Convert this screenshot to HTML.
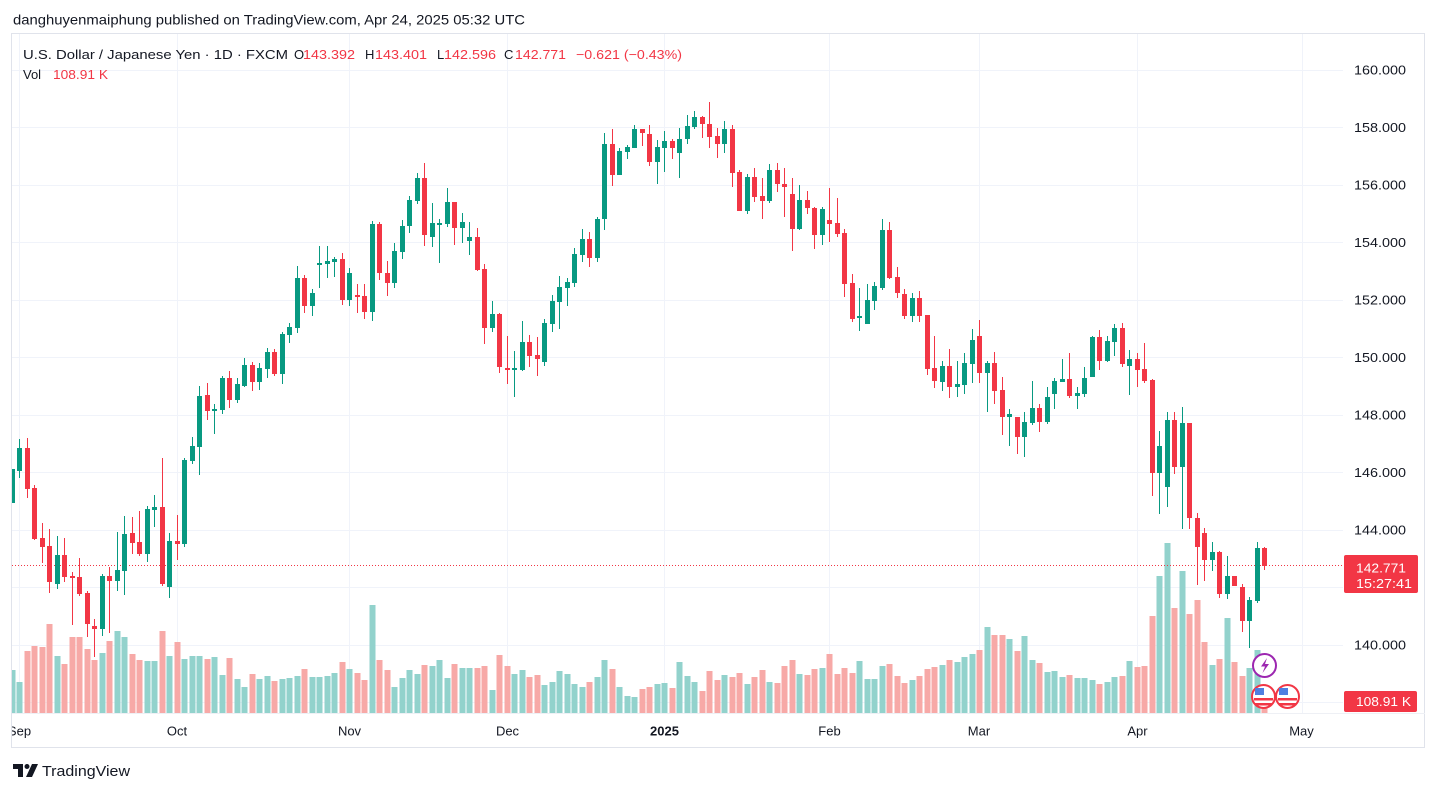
<!DOCTYPE html>
<html><head><meta charset="utf-8"><style>
html,body{margin:0;padding:0;background:#fff;}
svg{display:block;}
text{font-family:"Liberation Sans",Arial,sans-serif;}
</style></head><body>
<svg width="1438" height="792" viewBox="0 0 1438 792" xmlns="http://www.w3.org/2000/svg">
<defs><clipPath id="cp"><rect x="12" y="34" width="1331" height="713"/></clipPath></defs>
<rect width="1438" height="792" fill="#fff"/>
<text x="13" y="24.5" font-size="14" fill="#131722" textLength="512" lengthAdjust="spacingAndGlyphs">danghuyenmaiphung published on TradingView.com, Apr 24, 2025 05:32 UTC</text>
<rect x="11.5" y="33.5" width="1413" height="714" fill="none" stroke="#e0e3eb"/>
<g stroke="#f0f3fa" stroke-width="1">
<path d="M12 70.5H1343M12 127.5H1343M12 185.5H1343M12 242.5H1343M12 300.5H1343M12 357.5H1343M12 415.5H1343M12 472.5H1343M12 530.5H1343M12 587.5H1343M12 645.5H1343M12 702.5H1343"/>
<path d="M19.5 34V713M177.5 34V713M349.5 34V713M507.5 34V713M664.5 34V713M829.5 34V713M979.5 34V713M1137.5 34V713M1302.5 34V713"/>
</g>
<path d="M12 713.5H1425" stroke="#eef0f5"/>
<g clip-path="url(#cp)">
<path fill="#92d2cc" d="M9.5 670h6V713h-6ZM16.5 682h6V713h-6ZM54.5 656h6V713h-6ZM99.5 653h6V713h-6ZM114.5 631h6V713h-6ZM121.5 637h6V713h-6ZM144.5 661h6V713h-6ZM151.5 661h6V713h-6ZM166.5 656h6V713h-6ZM181.5 659h6V713h-6ZM189.5 656h6V713h-6ZM196.5 656h6V713h-6ZM211.5 657h6V713h-6ZM219.5 675h6V713h-6ZM234.5 679h6V713h-6ZM241.5 687h6V713h-6ZM256.5 679h6V713h-6ZM264.5 676h6V713h-6ZM279.5 679h6V713h-6ZM286.5 678h6V713h-6ZM294.5 676h6V713h-6ZM309.5 677h6V713h-6ZM316.5 677h6V713h-6ZM324.5 676h6V713h-6ZM331.5 673h6V713h-6ZM346.5 669h6V713h-6ZM369.5 605h6V713h-6ZM391.5 687h6V713h-6ZM399.5 678h6V713h-6ZM406.5 670h6V713h-6ZM414.5 674h6V713h-6ZM429.5 666h6V713h-6ZM436.5 660h6V713h-6ZM444.5 678h6V713h-6ZM459.5 668h6V713h-6ZM466.5 668h6V713h-6ZM489.5 690h6V713h-6ZM511.5 674h6V713h-6ZM519.5 670h6V713h-6ZM541.5 685h6V713h-6ZM549.5 682h6V713h-6ZM556.5 671h6V713h-6ZM564.5 674h6V713h-6ZM571.5 684h6V713h-6ZM579.5 687h6V713h-6ZM594.5 677h6V713h-6ZM601.5 660h6V713h-6ZM616.5 687h6V713h-6ZM624.5 696h6V713h-6ZM631.5 697h6V713h-6ZM654.5 684h6V713h-6ZM661.5 683h6V713h-6ZM676.5 662h6V713h-6ZM684.5 676h6V713h-6ZM691.5 682h6V713h-6ZM721.5 675h6V713h-6ZM744.5 684h6V713h-6ZM766.5 682h6V713h-6ZM796.5 674h6V713h-6ZM819.5 668h6V713h-6ZM856.5 661h6V713h-6ZM864.5 679h6V713h-6ZM871.5 679h6V713h-6ZM879.5 666h6V713h-6ZM909.5 680h6V713h-6ZM939.5 665h6V713h-6ZM954.5 662h6V713h-6ZM961.5 657h6V713h-6ZM969.5 654h6V713h-6ZM984.5 627h6V713h-6ZM1006.5 639h6V713h-6ZM1021.5 636h6V713h-6ZM1029.5 660h6V713h-6ZM1044.5 672h6V713h-6ZM1051.5 671h6V713h-6ZM1059.5 677h6V713h-6ZM1074.5 678h6V713h-6ZM1081.5 678h6V713h-6ZM1089.5 680h6V713h-6ZM1104.5 682h6V713h-6ZM1111.5 677h6V713h-6ZM1126.5 661h6V713h-6ZM1156.5 576h6V713h-6ZM1164.5 543h6V713h-6ZM1179.5 571h6V713h-6ZM1209.5 665h6V713h-6ZM1224.5 618h6V713h-6ZM1246.5 668h6V713h-6ZM1254.5 650h6V713h-6Z"/>
<path fill="#f7a9a7" d="M24.5 651h6V713h-6ZM31.5 646h6V713h-6ZM39.5 647h6V713h-6ZM46.5 624h6V713h-6ZM61.5 664h6V713h-6ZM69.5 637h6V713h-6ZM76.5 637h6V713h-6ZM84.5 649h6V713h-6ZM91.5 660h6V713h-6ZM106.5 641h6V713h-6ZM129.5 654h6V713h-6ZM136.5 660h6V713h-6ZM159.5 631h6V713h-6ZM174.5 642h6V713h-6ZM204.5 659h6V713h-6ZM226.5 658h6V713h-6ZM249.5 674h6V713h-6ZM271.5 681h6V713h-6ZM301.5 669h6V713h-6ZM339.5 662h6V713h-6ZM354.5 673h6V713h-6ZM361.5 680h6V713h-6ZM376.5 660h6V713h-6ZM384.5 670h6V713h-6ZM421.5 665h6V713h-6ZM451.5 664h6V713h-6ZM474.5 668h6V713h-6ZM481.5 666h6V713h-6ZM496.5 655h6V713h-6ZM504.5 666h6V713h-6ZM526.5 677h6V713h-6ZM534.5 675h6V713h-6ZM586.5 682h6V713h-6ZM609.5 669h6V713h-6ZM639.5 689h6V713h-6ZM646.5 687h6V713h-6ZM669.5 688h6V713h-6ZM699.5 691h6V713h-6ZM706.5 671h6V713h-6ZM714.5 680h6V713h-6ZM729.5 677h6V713h-6ZM736.5 673h6V713h-6ZM751.5 677h6V713h-6ZM759.5 670h6V713h-6ZM774.5 683h6V713h-6ZM781.5 666h6V713h-6ZM789.5 660h6V713h-6ZM804.5 675h6V713h-6ZM811.5 669h6V713h-6ZM826.5 654h6V713h-6ZM834.5 674h6V713h-6ZM841.5 668h6V713h-6ZM849.5 673h6V713h-6ZM886.5 664h6V713h-6ZM894.5 676h6V713h-6ZM901.5 683h6V713h-6ZM916.5 676h6V713h-6ZM924.5 669h6V713h-6ZM931.5 667h6V713h-6ZM946.5 660h6V713h-6ZM976.5 650h6V713h-6ZM991.5 635h6V713h-6ZM999.5 635h6V713h-6ZM1014.5 651h6V713h-6ZM1036.5 663h6V713h-6ZM1066.5 675h6V713h-6ZM1096.5 684h6V713h-6ZM1119.5 676h6V713h-6ZM1134.5 667h6V713h-6ZM1141.5 666h6V713h-6ZM1149.5 616h6V713h-6ZM1171.5 608h6V713h-6ZM1186.5 614h6V713h-6ZM1194.5 600h6V713h-6ZM1201.5 642h6V713h-6ZM1216.5 659h6V713h-6ZM1231.5 662h6V713h-6ZM1239.5 676h6V713h-6ZM1261.5 690h6V713h-6Z"/>
<path stroke="#f23645" stroke-dasharray="1 2" d="M12 565.5H1343"/>
<path stroke="#089981" stroke-width="1" fill="none" d="M12.5 469V503M19.5 439V478M57.5 536V589M102.5 574V636M117.5 532V591M124.5 516V595M147.5 506V562M154.5 495V527M169.5 533V598M184.5 458V547M192.5 437V464M199.5 386V475M214.5 404V434M222.5 376V414M237.5 378V403M244.5 358V387M259.5 363V390M267.5 348V378M282.5 332V384M289.5 323V343M297.5 266V333M312.5 289V316M319.5 246V288M327.5 246V278M334.5 257V277M349.5 268V306M372.5 221V321M394.5 243V288M402.5 220V259M409.5 196V233M417.5 173V204M432.5 203V247M439.5 219V263M447.5 188V227M462.5 213V243M469.5 222V255M492.5 301V332M514.5 351V397M522.5 321V371M544.5 319V366M552.5 295V332M559.5 276V329M567.5 278V306M574.5 248V287M582.5 229V262M597.5 217V262M604.5 133V230M619.5 148V175M627.5 145V159M634.5 125V148M657.5 140V184M664.5 131V172M679.5 128V178M687.5 115V144M694.5 111V129M724.5 121V153M747.5 174V214M769.5 164V203M799.5 185V230M822.5 207V245M859.5 288V331M867.5 284V324M874.5 282V310M882.5 219V290M912.5 293V322M942.5 361V391M957.5 361V397M964.5 353V394M972.5 329V383M987.5 361V412M1009.5 409V446M1024.5 412V457M1032.5 381V425M1047.5 387V424M1054.5 378V409M1062.5 359V382M1077.5 387V409M1084.5 367V397M1092.5 336V377M1107.5 336V362M1114.5 324V356M1129.5 350V395M1159.5 431V514M1167.5 412V507M1182.5 407V529M1212.5 542V571M1227.5 556V599M1249.5 597V648M1257.5 542V603"/>
<path fill="#089981" d="M10 469h5V503h-5ZM17 448h5V471h-5ZM55 555h5V584h-5ZM100 576h5V629h-5ZM115 570h5V581h-5ZM122 534h5V571h-5ZM145 509h5V554h-5ZM152 507h5V510h-5ZM167 541h5V587h-5ZM182 460h5V544h-5ZM190 446h5V461h-5ZM197 396h5V447h-5ZM212 409h5V411h-5ZM220 378h5V410h-5ZM235 384h5V400h-5ZM242 365h5V386h-5ZM257 368h5V382h-5ZM265 352h5V369h-5ZM280 334h5V374h-5ZM287 327h5V335h-5ZM295 278h5V328h-5ZM310 293h5V306h-5ZM317 263h5V265h-5ZM325 261h5V264h-5ZM332 259h5V262h-5ZM347 273h5V300h-5ZM370 224h5V312h-5ZM392 251h5V283h-5ZM400 226h5V252h-5ZM407 200h5V226h-5ZM415 178h5V201h-5ZM430 223h5V237h-5ZM437 223h5V225h-5ZM445 202h5V224h-5ZM460 222h5V228h-5ZM467 237h5V241h-5ZM490 314h5V328h-5ZM512 368h5V370h-5ZM520 342h5V370h-5ZM542 323h5V362h-5ZM550 301h5V324h-5ZM557 287h5V302h-5ZM565 282h5V288h-5ZM572 254h5V283h-5ZM580 239h5V255h-5ZM595 219h5V258h-5ZM602 144h5V219h-5ZM617 151h5V175h-5ZM625 147h5V152h-5ZM632 129h5V148h-5ZM655 147h5V162h-5ZM662 141h5V148h-5ZM677 139h5V153h-5ZM685 126h5V139h-5ZM692 117h5V127h-5ZM722 129h5V144h-5ZM745 177h5V211h-5ZM767 170h5V201h-5ZM797 200h5V229h-5ZM820 209h5V235h-5ZM857 316h5V318h-5ZM865 300h5V324h-5ZM872 286h5V301h-5ZM880 230h5V288h-5ZM910 298h5V316h-5ZM940 366h5V382h-5ZM955 384h5V387h-5ZM962 363h5V385h-5ZM970 340h5V364h-5ZM985 363h5V373h-5ZM1007 414h5V417h-5ZM1022 422h5V437h-5ZM1030 408h5V423h-5ZM1045 397h5V422h-5ZM1052 381h5V394h-5ZM1060 379h5V382h-5ZM1075 393h5V396h-5ZM1082 378h5V394h-5ZM1090 337h5V377h-5ZM1105 341h5V361h-5ZM1112 328h5V342h-5ZM1127 359h5V366h-5ZM1157 446h5V473h-5ZM1165 420h5V487h-5ZM1180 423h5V467h-5ZM1210 552h5V560h-5ZM1225 576h5V594h-5ZM1247 600h5V621h-5ZM1255 548h5V601h-5Z"/>
<path stroke="#f23645" stroke-width="1" fill="none" d="M27.5 438V498M34.5 485V540M42.5 523V563M49.5 529V593M64.5 538V582M72.5 572V625M79.5 558V596M87.5 591V637M94.5 619V657M109.5 567V633M132.5 517V554M139.5 511V556M162.5 458V586M177.5 515V560M207.5 383V420M229.5 371V408M252.5 362V391M274.5 349V376M304.5 275V313M342.5 253V305M357.5 284V313M364.5 284V319M379.5 222V280M387.5 261V296M424.5 163V246M454.5 202V245M477.5 228V271M484.5 264V344M499.5 313V373M507.5 336V384M529.5 335V367M537.5 337V376M589.5 232V267M612.5 129V186M642.5 129V146M649.5 125V166M672.5 139V159M702.5 116V138M709.5 102V148M717.5 128V158M732.5 125V187M739.5 170V211M754.5 168V202M762.5 178V219M777.5 163V192M784.5 168V217M792.5 178V251M807.5 191V214M814.5 207V249M829.5 188V242M837.5 198V237M844.5 229V297M852.5 274V322M889.5 222V279M897.5 267V298M904.5 289V319M919.5 291V322M927.5 315V375M934.5 336V388M949.5 349V398M979.5 320V383M994.5 352V404M1002.5 377V435M1017.5 417V454M1039.5 404V432M1069.5 353V398M1099.5 330V370M1122.5 323V367M1137.5 353V387M1144.5 343V383M1152.5 379V496M1174.5 412V474M1189.5 423V529M1197.5 513V585M1204.5 528V581M1219.5 551V598M1234.5 576V586M1242.5 584V632M1264.5 547V570"/>
<path fill="#f23645" d="M25 448h5V489h-5ZM32 488h5V539h-5ZM40 538h5V547h-5ZM47 546h5V582h-5ZM62 555h5V577h-5ZM70 576h5V578h-5ZM77 577h5V594h-5ZM85 593h5V624h-5ZM92 626h5V629h-5ZM107 576h5V581h-5ZM130 533h5V543h-5ZM137 542h5V554h-5ZM160 507h5V584h-5ZM175 541h5V544h-5ZM205 395h5V411h-5ZM227 378h5V400h-5ZM250 365h5V382h-5ZM272 352h5V374h-5ZM302 278h5V306h-5ZM340 259h5V300h-5ZM355 295h5V297h-5ZM362 296h5V312h-5ZM377 224h5V273h-5ZM385 273h5V283h-5ZM422 178h5V235h-5ZM452 202h5V228h-5ZM475 237h5V270h-5ZM482 269h5V328h-5ZM497 314h5V367h-5ZM505 368h5V370h-5ZM527 342h5V356h-5ZM535 355h5V359h-5ZM587 239h5V258h-5ZM610 144h5V175h-5ZM640 129h5V133h-5ZM647 134h5V162h-5ZM670 141h5V148h-5ZM700 117h5V124h-5ZM707 124h5V137h-5ZM715 136h5V144h-5ZM730 129h5V173h-5ZM737 172h5V211h-5ZM752 177h5V197h-5ZM760 196h5V201h-5ZM775 170h5V184h-5ZM782 184h5V187h-5ZM790 194h5V229h-5ZM805 200h5V208h-5ZM812 208h5V235h-5ZM827 220h5V224h-5ZM835 223h5V234h-5ZM842 233h5V284h-5ZM850 283h5V319h-5ZM887 230h5V278h-5ZM895 277h5V293h-5ZM902 294h5V316h-5ZM917 298h5V316h-5ZM925 315h5V369h-5ZM932 368h5V381h-5ZM947 366h5V387h-5ZM977 336h5V373h-5ZM992 363h5V391h-5ZM1000 390h5V417h-5ZM1015 417h5V437h-5ZM1037 408h5V422h-5ZM1067 379h5V396h-5ZM1097 337h5V361h-5ZM1120 328h5V364h-5ZM1135 359h5V370h-5ZM1142 369h5V381h-5ZM1150 380h5V473h-5ZM1172 420h5V467h-5ZM1187 423h5V518h-5ZM1195 518h5V547h-5ZM1202 533h5V560h-5ZM1217 552h5V594h-5ZM1232 576h5V586h-5ZM1240 587h5V621h-5ZM1262 548h5V566h-5Z"/>
<g font-size="13" fill="#131722" text-anchor="middle">
<text x="19.5" y="735.5">Sep</text>
<text x="177" y="735.5">Oct</text>
<text x="349.5" y="735.5">Nov</text>
<text x="507.5" y="735.5">Dec</text>
<text x="664.5" y="735.5" font-weight="bold">2025</text>
<text x="829.5" y="735.5">Feb</text>
<text x="979" y="735.5">Mar</text>
<text x="1137.5" y="735.5">Apr</text>
<text x="1301.5" y="735.5">May</text>
</g>
</g>
<!-- icons -->
<circle cx="1264.5" cy="665.5" r="11.5" fill="#fff" stroke="#9c27b0" stroke-width="2"/>
<path d="M1267 658l-6 8.5h4l-2.5 6.5 6.5-9h-4z" fill="#9c27b0"/>
<g>
<circle cx="1263.5" cy="696.5" r="11.5" fill="#fff" stroke="#f23645" stroke-width="2"/>
<path d="M1254 698h19v2.5h-19zM1255 703h17v2.5h-17z" fill="#f23645"/>
<rect x="1255" y="688" width="9" height="7" fill="#4f7fe0"/>
<circle cx="1287.5" cy="696.5" r="11.5" fill="#fff" stroke="#f23645" stroke-width="2"/>
<path d="M1278 698h19v2.5h-19zM1279 703h17v2.5h-17z" fill="#f23645"/>
<rect x="1279" y="688" width="9" height="7" fill="#4f7fe0"/>
</g>
<!-- price axis -->
<g font-size="13" fill="#131722">
<text x="1354" y="74.5" textLength="52" lengthAdjust="spacingAndGlyphs">160.000</text>
<text x="1354" y="132" textLength="52" lengthAdjust="spacingAndGlyphs">158.000</text>
<text x="1354" y="189.5" textLength="52" lengthAdjust="spacingAndGlyphs">156.000</text>
<text x="1354" y="247" textLength="52" lengthAdjust="spacingAndGlyphs">154.000</text>
<text x="1354" y="304.5" textLength="52" lengthAdjust="spacingAndGlyphs">152.000</text>
<text x="1354" y="362" textLength="52" lengthAdjust="spacingAndGlyphs">150.000</text>
<text x="1354" y="419.5" textLength="52" lengthAdjust="spacingAndGlyphs">148.000</text>
<text x="1354" y="477" textLength="52" lengthAdjust="spacingAndGlyphs">146.000</text>
<text x="1354" y="534.5" textLength="52" lengthAdjust="spacingAndGlyphs">144.000</text>
<text x="1354" y="649.5" textLength="52" lengthAdjust="spacingAndGlyphs">140.000</text>
</g>
<rect x="1344" y="555" width="74" height="38" rx="2" fill="#f23645"/>
<text x="1356" y="572.5" font-size="13" fill="#fff" textLength="50" lengthAdjust="spacingAndGlyphs">142.771</text>
<text x="1356" y="588" font-size="13" fill="#fff" textLength="56" lengthAdjust="spacingAndGlyphs">15:27:41</text>
<rect x="1344" y="691" width="73" height="21" rx="2" fill="#f23645"/>
<text x="1356" y="706" font-size="13" fill="#fff" textLength="55" lengthAdjust="spacingAndGlyphs">108.91 K</text>
<!-- legend -->
<g font-size="13">
<text x="23" y="59" fill="#131722" textLength="265" lengthAdjust="spacingAndGlyphs">U.S. Dollar / Japanese Yen · 1D · FXCM</text>
<text x="294" y="59" fill="#131722">O</text>
<text x="303" y="59" fill="#f23645" textLength="52" lengthAdjust="spacingAndGlyphs">143.392</text>
<text x="365" y="59" fill="#131722">H</text>
<text x="375" y="59" fill="#f23645" textLength="52" lengthAdjust="spacingAndGlyphs">143.401</text>
<text x="437" y="59" fill="#131722">L</text>
<text x="444" y="59" fill="#f23645" textLength="52" lengthAdjust="spacingAndGlyphs">142.596</text>
<text x="504" y="59" fill="#131722">C</text>
<text x="515" y="59" fill="#f23645" textLength="51" lengthAdjust="spacingAndGlyphs">142.771</text>
<text x="576" y="59" fill="#f23645" textLength="106" lengthAdjust="spacingAndGlyphs">−0.621 (−0.43%)</text>
<text x="23" y="79" fill="#131722">Vol</text>
<text x="53" y="79" fill="#f23645" textLength="55" lengthAdjust="spacingAndGlyphs">108.91 K</text>
</g>
<!-- logo -->
<path d="M13 764h10v13h-5v-8h-5z" fill="#131722"/>
<circle cx="27" cy="766.5" r="2.5" fill="#131722"/>
<path d="M32 764h6l-6 13h-6z" fill="#131722"/>
<text x="42" y="776" font-size="15" fill="#131722" textLength="88" lengthAdjust="spacingAndGlyphs">TradingView</text>
</svg>
</body></html>
